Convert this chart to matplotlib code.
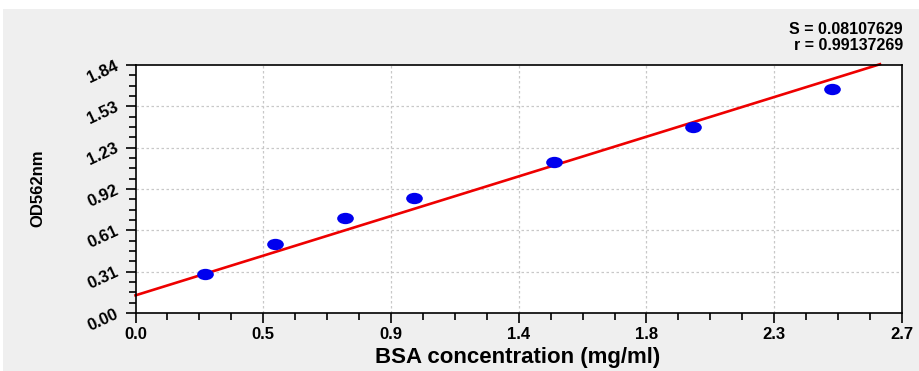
import numpy as np
import matplotlib
matplotlib.use("Agg")
import matplotlib.pyplot as plt
import matplotlib.ticker as mticker
from matplotlib.path import Path
from matplotlib.transforms import Affine2D
from matplotlib.patches import Rectangle

# standards
conc = [0.25, 0.5, 0.75, 1.0, 1.5, 2.0, 2.5]
od562 = [0.287, 0.510, 0.705, 0.855, 1.120, 1.378, 1.664]

# fitted line as drawn
fit_slope = 0.642
fit_intercept = 0.131
fit_x_end = 2.671

x_max = 2.75
y_max = 1.84
x_tick_labels = ["0.0", "0.5", "0.9", "1.4", "1.8", "2.3", "2.7"]
y_tick_labels = ["0.00", "0.31", "0.61", "0.92", "1.23", "1.53", "1.84"]

s_text = "S = 0.08107629"
r_text = "r = 0.99137269"

plt.rcParams["font.family"] = ["Liberation Sans", "DejaVu Sans"]
plt.rcParams["font.weight"] = "bold"

fig = plt.figure(figsize=(9.2, 3.71), dpi=100)
fig.patch.set_facecolor("white")
fig.patches.append(
    Rectangle((3 / 920, 0), 1, 362 / 371, transform=fig.transFigure,
              facecolor="#efefef", edgecolor="none", zorder=-10)
)

ax = fig.add_axes([135.5 / 920, 58 / 371, 766.5 / 920, 248 / 371])
ax.set_facecolor("white")
ax.set_xlim(0, x_max)
ax.set_ylim(0, y_max)

xt = np.linspace(0, x_max, 7)
yt = np.linspace(0, y_max, 7)
ax.set_xticks(xt)
ax.set_xticklabels(x_tick_labels)
ax.set_yticks(yt)
ax.set_yticklabels(y_tick_labels, rotation=25, va="center", ha="right",
                   rotation_mode="anchor")
ax.xaxis.set_minor_locator(mticker.AutoMinorLocator(4))
ax.yaxis.set_minor_locator(mticker.AutoMinorLocator(4))
ax.tick_params(which="major", direction="out", length=7, width=1.2,
               labelsize=12, pad=3)
ax.tick_params(which="minor", direction="out", length=5, width=1.2)
ax.tick_params(axis="y", pad=6)
for sp in ax.spines.values():
    sp.set_linewidth(1.2)

for v in xt[1:-1]:
    ax.axvline(v, color="#c8c8c8", lw=0.9, ls=(0, (2, 2)), zorder=0)
for v in yt[1:-1]:
    ax.axhline(v, color="#c8c8c8", lw=0.9, ls=(0, (2, 2)), zorder=0)

fx = np.array([0, fit_x_end])
ax.plot(fx, fit_intercept + fit_slope * fx, color="#ee0000", lw=1.9,
        clip_on=False, zorder=2)

ellipse = Path.unit_circle().transformed(Affine2D().scale(1.0, 0.68))
ax.plot(conc, od562, ls="none", marker=ellipse, ms=12, color="#0000ee",
        markeredgewidth=0, zorder=3)

fig.text(518 / 920, 1 - 357 / 371, "BSA concentration (mg/ml)", fontsize=16,
         fontweight="bold", ha="center", va="center")
fig.text(38 / 920, 1 - 188 / 371, "OD562nm", rotation=90, fontsize=12,
         fontweight="bold", ha="center", va="center")

fig.text(903 / 920, 1 - 30 / 371, s_text, fontsize=11.5, fontweight="bold",
         ha="right", va="center")
fig.text(903 / 920, 1 - 45 / 371, r_text, fontsize=11.5, fontweight="bold",
         ha="right", va="center")

fig.savefig("out.png", dpi=100, facecolor=fig.get_facecolor())
